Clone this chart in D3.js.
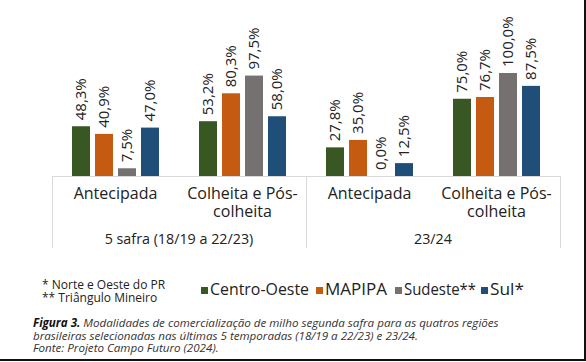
<!DOCTYPE html>
<html>
<head>
<meta charset="utf-8">
<script src="https://cdn.jsdelivr.net/npm/d3@7"></script>
<style>
  html, body { margin: 0; padding: 0; background: #fff; }
  svg { display: block; font-family: "Open Sans", sans-serif; }
</style>
</head>
<body>
<svg id="chart" width="586" height="362"></svg>
<script>
// ---- data ----
const groups = ["5 safra (18/19 a 22/23)", "23/24"];
const modalities = ["Antecipada", "Colheita e Pós-colheita"];
const modalityLines = [["Antecipada"], ["Colheita e Pós-", "colheita"]];
const series = ["Centro-Oeste", "MAPIPA", "Sudeste**", "Sul*"];
const legendLabels = ["Centro-Oeste", "MAPIPA", "Sudeste**", "Sul*"];
const colors = ["#385723", "#C55A11", "#767171", "#1F4E79"];
// values per category (group|modality), in series order
const centroOeste = [48.3, 53.2, 27.8, 75.0];
const mapipa      = [40.9, 80.3, 35.0, 76.7];
const sudeste     = [7.5, 97.5, 0.0, 100.0];
const sul         = [47.0, 58.0, 12.5, 87.5];
const footnotes = ["* Norte e Oeste do PR", "** Triângulo Mineiro"];
const captionBold = "Figura 3.";
const captionLines = [
  " Modalidades de comercialização de milho segunda safra para as quatros regiões",
  "brasileiras selecionadas nas últimas 5 temporadas (18/19 a 22/23) e 23/24.",
  "Fonte: Projeto Campo Futuro (2024)."
];

// ---- build table ----
const seriesValues = [centroOeste, mapipa, sudeste, sul];
const cats = [];
groups.forEach((g, gi) => modalities.forEach((m, mi) => cats.push({key: g + "|" + m, g, gi, m, mi})));
const fmt = v => v.toFixed(1).replace(".", ",") + "%";

const svg = d3.select("#chart");

// ---- scales ----
const x0 = d3.scaleBand().domain(cats.map(c => c.key)).range([52, 560]).paddingInner(0).paddingOuter(0);
const x1 = d3.scaleBand().domain(series).range([0, x0.bandwidth()]).paddingInner(5/23).paddingOuter(0.87);
const y = d3.scaleLinear().domain([0, 100]).range([176, 73]);
const gScale = d3.scaleBand().domain(groups).range([52, 560]);

// ---- axis frame ----
const gridColor = "#d9d9d9";
svg.append("line").attr("x1", 52).attr("x2", 560).attr("y1", y(0) + 0.5).attr("y2", y(0) + 0.5)
  .attr("stroke", gridColor).attr("stroke-width", 1);
const vx = [gScale.range()[0], ...groups.map(g => gScale(g) + gScale.bandwidth())];
svg.selectAll("line.v").data(vx).enter().append("line")
  .attr("x1", d => Math.round(d) + 0.5).attr("x2", d => Math.round(d) + 0.5)
  .attr("y1", y(0)).attr("y2", 248)
  .attr("stroke", gridColor).attr("stroke-width", 1);

// ---- bars ----
const catG = svg.selectAll("g.cat").data(cats).enter().append("g")
  .attr("transform", d => `translate(${x0(d.key)},0)`);
catG.each(function(c, ci) {
  const g = d3.select(this);
  const rows = series.map((s, si) => ({s, si, v: seriesValues[si][ci]}));
  g.selectAll("rect").data(rows).enter().append("rect")
    .attr("x", d => x1(d.s)).attr("width", x1.bandwidth())
    .attr("y", d => y(d.v)).attr("height", d => y(0) - y(d.v))
    .attr("fill", d => colors[d.si]);
  g.selectAll("text.val").data(rows).enter().append("text")
    .attr("transform", d => `translate(${x1(d.s) + x1.bandwidth() / 2},${y(d.v) - 6}) rotate(-90)`)
    .attr("dy", "0.36em")
    .attr("font-size", 15).attr("fill", "#222")
    .text(d => fmt(d.v));
  // modality labels
  const lines = modalityLines[c.mi];
  g.append("text").attr("x", x0.bandwidth() / 2).attr("y", 199)
    .attr("text-anchor", "middle").attr("font-size", 16).attr("fill", "#222")
    .selectAll("tspan").data(lines).enter().append("tspan")
    .attr("x", x0.bandwidth() / 2).attr("dy", (d, i) => i === 0 ? 0 : 18).text(d => d);
});

// ---- group labels ----
svg.selectAll("text.grp").data(groups).enter().append("text")
  .attr("x", d => gScale(d) + gScale.bandwidth() / 2).attr("y", 244)
  .attr("text-anchor", "middle").attr("font-size", 14.3).attr("fill", "#222")
  .text(d => d);

// ---- footnotes ----
svg.selectAll("text.fn").data(footnotes).enter().append("text")
  .attr("x", 42).attr("y", (d, i) => 289 + i * 13)
  .attr("font-size", 12).attr("fill", "#222").text(d => d);

// ---- legend ----
const legX = [201, 316, 395, 481];
const legW = [99, 62, 72, 34];
const leg = svg.selectAll("g.leg").data(series).enter().append("g")
  .attr("transform", (d, i) => `translate(${legX[i]},0)`);
leg.append("rect").attr("x", 0).attr("y", 287).attr("width", 7).attr("height", 7)
  .attr("fill", (d, i) => colors[i]);
leg.append("text").attr("x", 9).attr("y", 295).attr("font-size", 16).attr("fill", "#222")
  .attr("textLength", (d, i) => legW[i]).attr("lengthAdjust", "spacingAndGlyphs")
  .text((d, i) => legendLabels[i]);

// ---- caption ----
const cap = svg.append("g").attr("font-size", 11.6).attr("font-style", "italic").attr("fill", "#333");
const l1 = cap.append("text").attr("x", 33).attr("y", 327);
l1.append("tspan").attr("font-weight", "bold").attr("fill", "#111").text(captionBold);
l1.append("tspan").text(captionLines[0]);
cap.append("text").attr("x", 33).attr("y", 339.5).text(captionLines[1]);
cap.append("text").attr("x", 33).attr("y", 352).text(captionLines[2]);

// ---- border ----
svg.append("line").attr("x1", 585).attr("x2", 585).attr("y1", 0).attr("y2", 361)
  .attr("stroke", "#111").attr("stroke-width", 2);
svg.append("line").attr("x1", 0).attr("x2", 586).attr("y1", 360).attr("y2", 360)
  .attr("stroke", "#111").attr("stroke-width", 2);
</script>
</body>
</html>
